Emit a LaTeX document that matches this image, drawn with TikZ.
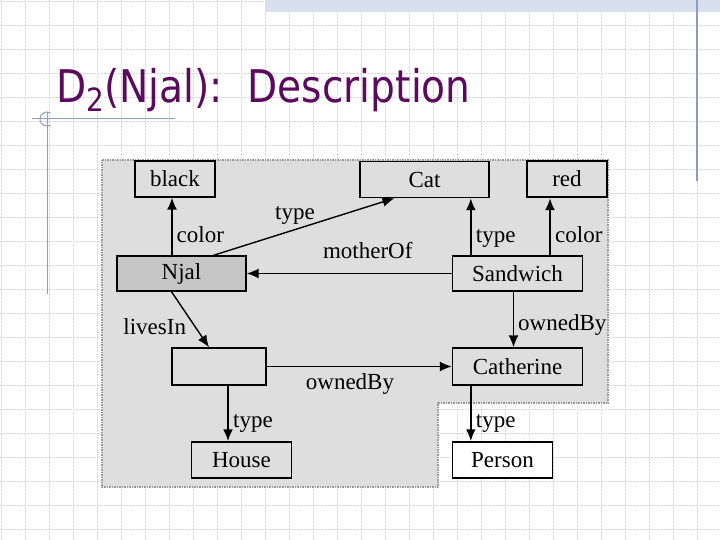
\documentclass[tikz,border=0pt]{standalone}
\usepackage{fontspec}
\setmainfont{Liberation Serif}
\newfontfamily\slidefont{DejaVu Sans}
\usepackage{tikz}
\usetikzlibrary{positioning,arrows.meta}
\definecolor{slidepurple}{HTML}{5C0A5C}
\definecolor{panelgray}{HTML}{DEDEDE}
\definecolor{njalgray}{HTML}{C6C6C6}
\definecolor{rulerblue}{HTML}{8C9CC4}
\definecolor{gridgray}{HTML}{D8D8D8}
\definecolor{bandblue}{HTML}{D8E0F0}

\begin{document}
\begin{tikzpicture}[x=1pt, y=-1pt, >={Latex[length=12pt,width=10pt]},
    font=\fontsize{23}{25}\selectfont, every node/.style={inner sep=4pt},
    box/.style={draw, line width=1.4pt, fill=panelgray, minimum width=#1pt,
      minimum height=36pt, inner sep=0pt},
    rel/.style={->, line width=1.4pt},
    relb/.style={->, line width=2.3pt}]
	\useasboundingbox (0,0) rectangle (720,540);
	\fill[white] (0,0) rectangle (720,540);
	% slide background
	\foreach \k in {0,...,29} \draw[gridgray, densely dotted] (1+24*\k,0) -- (1+24*\k,540);
	\foreach \k in {0,...,22} \draw[gridgray, densely dotted] (0,1+24*\k) -- (720,1+24*\k);
	\fill[bandblue] (265,0) rectangle (720,12);
	\draw[rulerblue, line width=1.2pt] (697,0) -- (697,181);
	\draw[rulerblue, line width=1pt] (32,119) -- (175,119);
	\draw[rulerblue, line width=1pt] (47,112) -- (47,294);
	\draw[rulerblue, line width=1pt] (50.5,113) arc[start angle=300, end angle=60, radius=7];
	\node[anchor=base west, inner sep=0pt, text=slidepurple, font=\slidefont\fontsize{45}{50}\selectfont] (title) at (56,103)
		{\scalebox{0.87}[1]{D\raisebox{-9pt}{\fontsize{32}{32}\selectfont 2}(Njal):\ \ Description}};
	% gray panel
	\filldraw[fill=panelgray, draw=gray!80, densely dotted, line width=1.5pt]
		(102,160) -- (608,160) -- (608,403) -- (438,403) -- (438,487) -- (102,487) -- cycle;
	% nodes
	\node[box=80] (Blk) at (175,179) {black};
	\node[box=129] (Cat) at (424.5,179.5) {Cat};
	\node[box=80, line width=2.2pt] (Red) at (567,179) {red};
	\node[box=129, minimum height=35pt, fill=njalgray] (Njal) at (181.5,273.5) {Njal};
	\node[box=130, minimum height=35pt] (Sand) at (517.5,273.5) {Sandwich};
	\node[box=94, minimum height=37pt] (Anon) at (219,366.5) {};
	\node[box=130, minimum height=37pt] (Cath) at (517.5,366.5) {Catherine};
	\node[box=100] (House) at (241.5,460) {House};
	\node[box=100, fill=white] (Pers) at (502.5,460) {Person};
	% edges
	\draw[rel] ([xshift=-3]Blk.south |- Njal.north) -- node[right, pos=0.36] {color} ([xshift=-3]Blk.south);
	\draw[rel] ([xshift=32]Njal.north) -- node[above, pos=0.45] {type} ([xshift=-30]Cat.south);
	\draw[rel] (Sand.west) -- node[above=10pt, pos=0.41] {motherOf} (Njal.east);
	\draw[relb] ([xshift=19]Sand.north west) -- node[right, pos=0.3] {type} ([xshift=19]Sand.north west |- Cat.south);
	\draw[relb] ([xshift=-17]Red.south |- Sand.north) -- node[right, pos=0.36] {color} ([xshift=-17]Red.south);
	\draw[rel] ([xshift=-4]Sand.south) -- node[right, pos=0.6] {ownedBy} ([xshift=-4]Cath.north);
	\draw[rel] ([xshift=-10]Njal.south) -- node[left=4pt, pos=0.62] {livesIn} ([xshift=-10]Anon.north);
	\draw[rel] (Anon.east) -- node[below=2pt, pos=0.45] {ownedBy} (Cath.west);
	\draw[relb] ([xshift=9]Anon.south) -- node[right, pos=0.68] {type} ([xshift=9]Anon.south |- House.north);
	\draw[relb] ([xshift=19]Cath.south west) -- node[right, pos=0.68] {type} ([xshift=19]Cath.south west |- Pers.north);
\end{tikzpicture}
\end{document}
